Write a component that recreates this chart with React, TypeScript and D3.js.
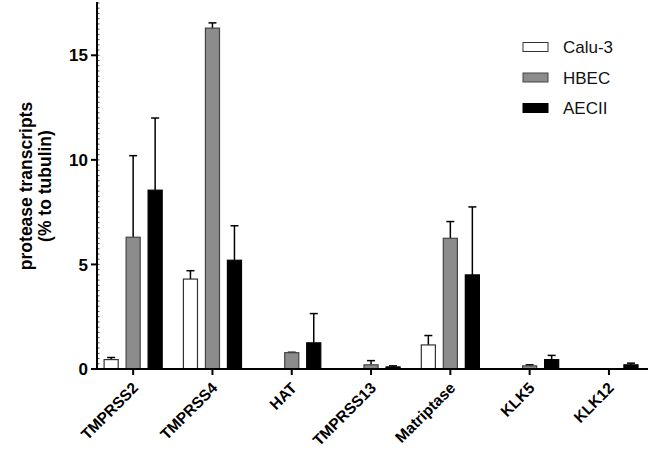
import React from "react";
import * as d3 from "d3";

const categories = ["TMPRSS2", "TMPRSS4", "HAT", "TMPRSS13", "Matriptase", "KLK5", "KLK12"];
const seriesNames = ["Calu-3", "HBEC", "AECII"];
const calu3Values = [0.45, 4.3, 0, 0, 1.15, 0, 0];
const calu3ErrTop = [0.55, 4.7, 0, 0, 1.6, 0, 0];
const hbecValues = [6.3, 16.3, 0.78, 0.2, 6.25, 0.15, 0];
const hbecErrTop = [10.2, 16.55, 0.8, 0.4, 7.05, 0.2, 0];
const aeciiValues = [8.55, 5.2, 1.25, 0.1, 4.5, 0.45, 0.2];
const aeciiErrTop = [12.0, 6.85, 2.65, 0.15, 7.75, 0.65, 0.28];
const yTicks = [0, 5, 10, 15];

const seriesValues = [calu3Values, hbecValues, aeciiValues];
const seriesErr = [calu3ErrTop, hbecErrTop, aeciiErrTop];
const fills = ["#ffffff", "#8c8c8c", "#000000"];
const strokes = ["#333333", "#444444", "#000000"];

const FONT = "'Liberation Sans', Arial, Helvetica, sans-serif";

export default function App() {
  const W = 650, H = 451;
  const y = d3.scaleLinear().domain([0, 17.5]).range([369, 3]);
  const x = d3.scaleBand<string>().domain(categories).range([93.5, 648.6]).paddingInner(0).paddingOuter(0);
  const xs = d3.scaleBand<string>().domain(seriesNames).range([-33, 33]).paddingInner(0.36).paddingOuter(0.18);
  const minorTicks = d3.range(0, 17.5001, 0.25);
  const axisX = 97;
  const y0 = y(0);

  return (
    <svg width={W} height={H} style={{ position: "absolute", left: 0, top: 0, background: "#fff" }} fontFamily={FONT}>
      <rect x={0} y={0} width={W} height={H} fill="#fff" />
      {/* bars */}
      {categories.map((c, i) => (
        <g key={c}>
          {seriesNames.map((s, j) => {
            const v = seriesValues[j][i];
            const e = seriesErr[j][i];
            const cx = (x(c) as number) + x.bandwidth() / 2;
            const bx = cx + (xs(s) as number);
            const bw = xs.bandwidth();
            const bc = bx + bw / 2;
            return (
              <g key={s}>
                {e > v && (
                  <g stroke="#000" strokeWidth={1.5}>
                    <line x1={bc} x2={bc} y1={y(v)} y2={y(e)} />
                    <line x1={bc - 4} x2={bc + 4} y1={y(e)} y2={y(e)} />
                  </g>
                )}
                {v > 0 && (
                  <rect x={bx} y={y(v)} width={bw} height={y0 - y(v)} fill={fills[j]} stroke={strokes[j]} strokeWidth={1.2} />
                )}
              </g>
            );
          })}
        </g>
      ))}
      {/* y axis */}
      <line x1={axisX} x2={axisX} y1={y(17.5) - 1} y2={y0 + 1} stroke="#000" strokeWidth={2} />
      {minorTicks.map((t) => (
        <line key={t} x1={axisX} x2={axisX + 2.5} y1={y(t)} y2={y(t)} stroke="#000" strokeWidth={0.7} />
      ))}
      {yTicks.map((t) => (
        <g key={t}>
          <line x1={axisX - 6} x2={axisX} y1={y(t)} y2={y(t)} stroke="#000" strokeWidth={2} />
          <text x={axisX - 9} y={y(t)} dy="0.36em" textAnchor="end" fontSize={17} fontWeight="bold" fill="#000">{t}</text>
        </g>
      ))}
      {/* x axis */}
      <line x1={axisX - 1} x2={648} y1={y0} y2={y0} stroke="#000" strokeWidth={2} />
      {categories.map((c) => {
        const cx = (x(c) as number) + x.bandwidth() / 2;
        return (
          <g key={c}>
            <line x1={cx} x2={cx} y1={y0} y2={y0 + 6} stroke="#000" strokeWidth={2} />
            <text transform={`translate(${cx + 6},${y0 + 20}) rotate(-45)`} textAnchor="end" fontSize={15.5} fontWeight="bold" fill="#000">{c}</text>
          </g>
        );
      })}
      {/* y label */}
      <text transform="translate(32,186) rotate(-90)" textAnchor="middle" fontSize={17.5} fontWeight="bold" fill="#000">protease transcripts</text>
      <text transform="translate(51,186) rotate(-90)" textAnchor="middle" fontSize={17.5} fontWeight="bold" fill="#000">(% to tubulin)</text>
      {/* legend */}
      {seriesNames.map((s, j) => {
        const ly = 47 + j * 30.5;
        return (
          <g key={s}>
            <rect x={523} y={ly - 4.5} width={25} height={9} fill={fills[j]} stroke={strokes[j]} strokeWidth={1} />
            <text x={563} y={ly} dy="0.36em" fontSize={17} fill="#111">{s}</text>
          </g>
        );
      })}
    </svg>
  );
}
